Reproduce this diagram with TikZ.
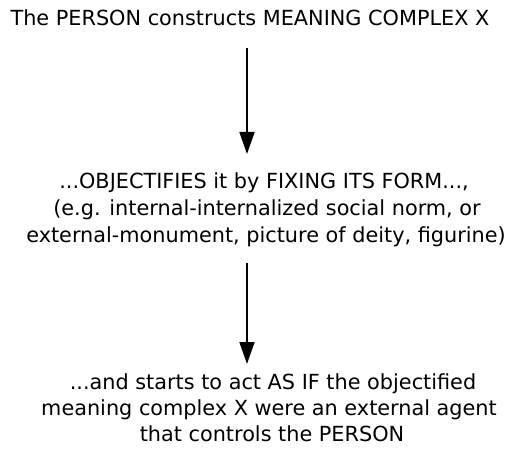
\documentclass[tikz,border=0pt]{standalone}
\usepackage{fontspec}
\setmainfont{DejaVu Sans}
\usetikzlibrary{arrows.meta,calc}
\begin{document}
\begin{tikzpicture}[x=1pt,y=-1pt,
  txt/.style={inner sep=0pt, anchor=base, font=\fontsize{20.8}{27}\selectfont},
  arr/.style={line width=1.8pt, -{Triangle[length=22pt,width=15pt]}}]
\useasboundingbox (0,0) rectangle (511,457);
\coordinate (ax) at (247,0);
\node[txt] (top) at (250,26) {The PERSON constructs MEANING COMPLEX X};
\node[txt] (m1) at (264,189) {...OBJECTIFIES it by FIXING ITS FORM...,};
\node[txt] (m2) at (267,215) {(e.g. internal-internalized social norm, or};
\node[txt] (m3) at (266,242) {external-monument, picture of deity, figurine)};
\node[txt] (b1) at (273,389) {...and starts to act AS IF the objectified};
\node[txt] (b2) at (269,415) {meaning complex X were an external agent};
\node[txt] (b3) at (272,441) {that controls the PERSON};
\draw[arr] ($(top.base -| ax)+(0,22)$) -- ($(m1.base -| ax)+(0,-35)$);
\draw[arr] ($(m3.base -| ax)+(0,21)$) -- ($(b1.base -| ax)+(0,-25)$);
\end{tikzpicture}
\end{document}
